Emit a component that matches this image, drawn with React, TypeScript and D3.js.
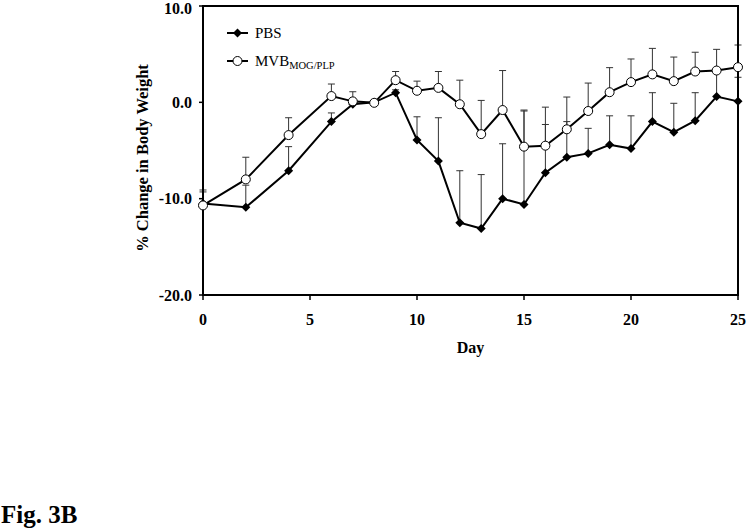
import * as d3 from "d3";
import React from "react";

// days measured
const days = [0, 2, 4, 6, 7, 8, 9, 10, 11, 12, 13, 14, 15, 16, 17, 18, 19, 20, 21, 22, 23, 24, 25];

// % change in body weight, PBS group
const pbsMean = [-10.5, -10.9, -7.1, -2.0, -0.2, 0.0, 1.0, -3.9, -6.1, -12.5, -13.1, -10.0, -10.6, -7.3, -5.7, -5.3, -4.4, -4.8, -2.0, -3.1, -1.9, 0.6, 0.1];
const pbsErr = [1.2, 2.3, 2.5, 0.9, 0.5, 0.2, 0.3, 2.4, 4.5, 5.4, 5.6, 5.7, 9.8, 5.0, 3.7, 2.6, 3.0, 3.4, 3.0, 3.0, 2.9, 2.5, 2.5];

// % change in body weight, MVB MOG/PLP group
const mvbMean = [-10.7, -8.0, -3.4, 0.65, 0.1, -0.05, 2.3, 1.2, 1.5, -0.2, -3.3, -0.8, -4.6, -4.5, -2.8, -0.9, 1.05, 2.1, 2.9, 2.2, 3.2, 3.3, 3.65];
const mvbErr = [1.6, 2.3, 1.8, 1.25, 1.0, 0.2, 0.9, 1.0, 1.7, 2.5, 3.5, 4.1, 3.7, 4.0, 3.35, 2.9, 2.55, 2.4, 2.7, 2.5, 2.0, 2.2, 2.3];

const yTicks = [10, 0, -10, -20];
const xTicks = [0, 5, 10, 15, 20, 25];

const FONT = "'Liberation Serif', 'Times New Roman', serif";

export default function App() {
  const W = 750;
  const H = 532;
  const x = d3.scaleLinear().domain([0, 25]).range([203, 738]);
  const y = d3.scaleLinear().domain([-20, 10]).range([295, 6]);

  const idx = d3.range(days.length);
  const pbsLine = d3
    .line<number>()
    .x((i) => x(days[i]))
    .y((i) => y(pbsMean[i]))(idx);
  const mvbLine = d3
    .line<number>()
    .x((i) => x(days[i]))
    .y((i) => y(mvbMean[i]))(idx);

  const diamond = (cx: number, cy: number, r = 4.5) =>
    `M${cx},${cy - r}L${cx + r},${cy}L${cx},${cy + r}L${cx - r},${cy}Z`;

  // upper error bars only
  const errBars = (mean: number[], err: number[], key: string) =>
    days.map((d, i) => {
      const top = y(mean[i] + err[i]);
      return (
        <g key={key + i} stroke="#333" strokeWidth={1}>
          <line x1={x(d)} x2={x(d)} y1={y(mean[i])} y2={top} />
          <line x1={x(d) - 3.5} x2={x(d) + 3.5} y1={top} y2={top} />
        </g>
      );
    });

  return (
    <svg
      width={W}
      height={H}
      style={{ position: "absolute", left: 0, top: 0, background: "#fff" }}
      fontFamily={FONT}
    >
      {errBars(pbsMean, pbsErr, "pe")}
      {errBars(mvbMean, mvbErr, "me")}

      {/* frame */}
      <rect x={x(0)} y={y(10)} width={x(25) - x(0)} height={y(-20) - y(10)} fill="none" stroke="#000" strokeWidth={2} />

      {/* y ticks */}
      {yTicks.map((t) => (
        <g key={"yt" + t}>
          <line x1={x(0) - 4} x2={x(0)} y1={y(t)} y2={y(t)} stroke="#000" strokeWidth={1.5} />
          <text x={x(0) - 11} y={Math.max(y(t), 8)} dy="0.35em" textAnchor="end" fontSize={16} fontWeight="bold">
            {t.toFixed(1)}
          </text>
        </g>
      ))}

      {/* x ticks */}
      {xTicks.map((t) => (
        <g key={"xt" + t}>
          <line x1={x(t)} x2={x(t)} y1={y(-20)} y2={y(-20) + 5} stroke="#000" strokeWidth={1.5} />
          <text x={x(t)} y={y(-20) + 30} textAnchor="middle" fontSize={16} fontWeight="bold">
            {t}
          </text>
        </g>
      ))}

      <text x={(x(0) + x(25)) / 2} y={353} textAnchor="middle" fontSize={16} fontWeight="bold">
        Day
      </text>
      <text
        transform={`translate(148,158) rotate(-90)`}
        textAnchor="middle"
        fontSize={16.5}
        fontWeight="bold"
      >
        % Change in Body Weight
      </text>

      {/* series lines */}
      <path d={pbsLine ?? ""} fill="none" stroke="#000" strokeWidth={2} />
      <path d={mvbLine ?? ""} fill="none" stroke="#000" strokeWidth={2} />

      {/* markers */}
      {days.map((d, i) => (
        <path key={"pm" + i} d={diamond(x(d), y(pbsMean[i]))} fill="#000" />
      ))}
      {days.map((d, i) => (
        <circle key={"mm" + i} cx={x(d)} cy={y(mvbMean[i])} r={4.5} fill="#fff" stroke="#000" strokeWidth={1} />
      ))}

      {/* legend */}
      <line x1={227} x2={248} y1={33} y2={33} stroke="#000" strokeWidth={2} />
      <path d={diamond(237.5, 33)} fill="#000" />
      <text x={255} y={33} dy="0.35em" fontSize={15}>
        PBS
      </text>
      <line x1={227} x2={248} y1={61} y2={61} stroke="#000" strokeWidth={2} />
      <circle cx={237.5} cy={61} r={4.5} fill="#fff" stroke="#000" strokeWidth={1} />
      <text x={255} y={61} dy="0.35em" fontSize={15}>
        MVB
        <tspan fontSize={10.5} dy={3}>
          MOG/PLP
        </tspan>
      </text>

      <text x={1} y={523} fontSize={25} fontWeight="bold">
        Fig. 3B
      </text>
    </svg>
  );
}
